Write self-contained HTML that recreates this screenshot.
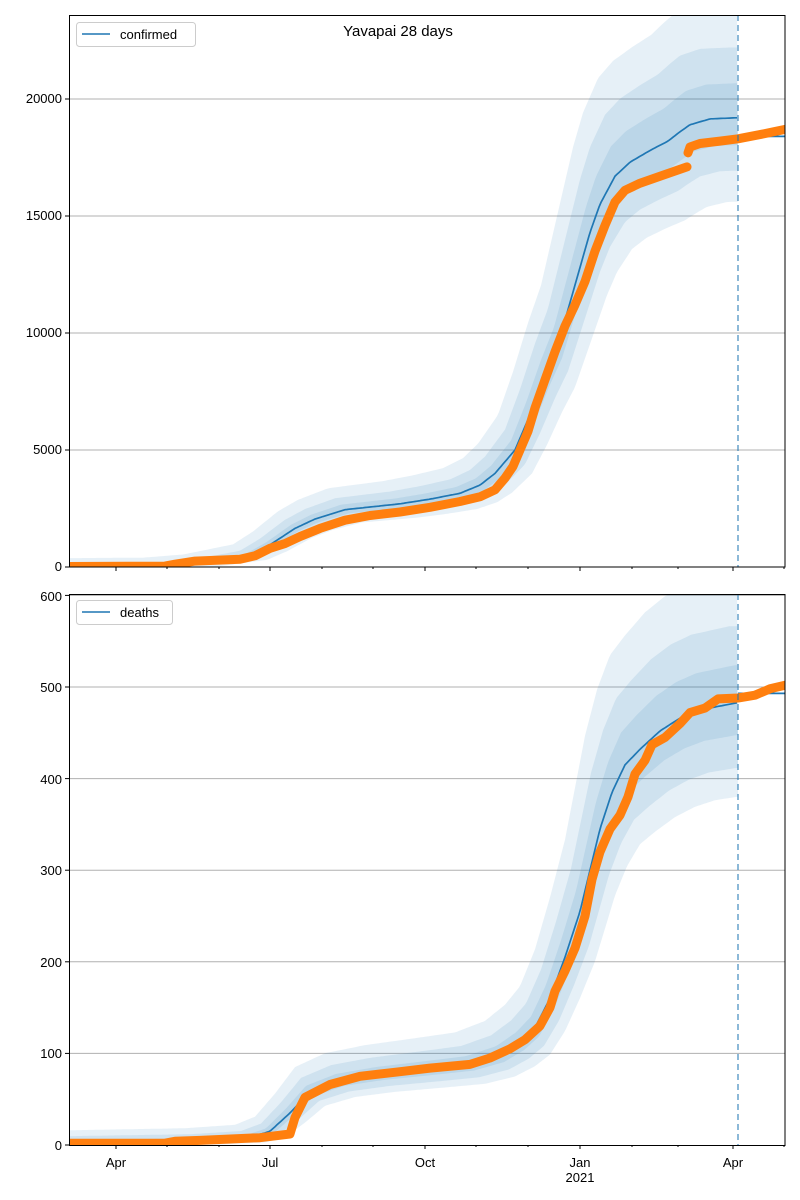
<!DOCTYPE html>
<html><head><meta charset="utf-8"><style>
html,body{margin:0;padding:0;background:#fff;}
svg{display:block;font-family:"Liberation Sans","DejaVu Sans",sans-serif;}
</style></head><body>
<svg id="s" width="800" height="1200" viewBox="0 0 800 1200" xmlns="http://www.w3.org/2000/svg">
<rect width="800" height="1200" fill="#fff"/>
<g id="plot"></g>
<g id="axes" stroke="#000" fill="none">
<rect x="69.5" y="15.5" width="715.5" height="551.5" stroke-width="1"/>
<rect x="69.5" y="594.5" width="715.5" height="551" stroke-width="1"/>
</g>
<g id="ticks" stroke="#000" stroke-width="1"></g>
<g font-size="13" fill="#000" text-anchor="end">
<text x="62" y="571">0</text>
<text x="62" y="454">5000</text>
<text x="62" y="337">10000</text>
<text x="62" y="220">15000</text>
<text x="62" y="103">20000</text>
<text x="62" y="1150">0</text>
<text x="62" y="1058">100</text>
<text x="62" y="967">200</text>
<text x="62" y="875">300</text>
<text x="62" y="784">400</text>
<text x="62" y="692">500</text>
<text x="62" y="601">600</text>
</g>
<g font-size="13" fill="#000" text-anchor="middle">
<text x="116" y="1167">Apr</text>
<text x="270" y="1167">Jul</text>
<text x="425" y="1167">Oct</text>
<text x="580" y="1167">Jan</text>
<text x="580" y="1182">2021</text>
<text x="733" y="1167">Apr</text>
<text x="398" y="36" font-size="15">Yavapai 28 days</text>
</g>
<g>
<rect x="76.5" y="22.5" width="119" height="24" rx="3" fill="#fff" fill-opacity="0.8" stroke="#ccc"/>
<line x1="82" y1="34" x2="110" y2="34" stroke="#1f77b4" stroke-width="1.5"/>
<text x="120" y="39" font-size="13">confirmed</text>
<rect x="76.5" y="600.5" width="96" height="24" rx="3" fill="#fff" fill-opacity="0.8" stroke="#ccc"/>
<line x1="82" y1="612" x2="110" y2="612" stroke="#1f77b4" stroke-width="1.5"/>
<text x="120" y="617" font-size="13">deaths</text>
</g>
</svg>
<script>
(function(){
var NS="http://www.w3.org/2000/svg";
var plot=document.getElementById('plot'),ticks=document.getElementById('ticks');
function el(p,t,a){var e=document.createElementNS(NS,t);for(var k in a)e.setAttribute(k,a[k]);p.appendChild(e);return e;}
function interp(pts,x){if(x<=pts[0][0])return pts[0][1];for(var i=1;i<pts.length;i++){if(x<=pts[i][0]){var a=pts[i-1],b=pts[i];return a[1]+(b[1]-a[1])*(x-a[0])/(b[0]-a[0]);}}return pts[pts.length-1][1];}
[0,5000,10000,15000,20000].forEach(function(v){var y=567-v*0.0234;if(v>0)el(plot,'line',{x1:69,x2:785,y1:y,y2:y,stroke:'#b0b0b0','stroke-width':1});});
[100,200,300,400,500,600].forEach(function(v){var y=1145-v*0.916;el(plot,'line',{x1:69,x2:785,y1:y,y2:y,stroke:'#b0b0b0','stroke-width':1});});
function panel(med,medAfter,obs,ys,fu,fl,sh,add,gclip){
 var g=el(plot,'g',{'clip-path':gclip});
 for(var k=2;k>=0;k--){
  var up=[],lo=[];
  for(var x=69;x<=738;x+=2){up.push(x+','+ys(interp(med,x+sh[k])*(1+fu[k])+add[k]));}
  for(var x=738;x>=69;x-=2){lo.push(x+','+ys(Math.max(0,interp(med,x-sh[k])*(1-fl[k])-add[k]*0.3)));}
  el(g,'polygon',{points:up.concat(lo).join(' '),fill:'#1f77b4','fill-opacity':0.11});
 }
 var m=[];for(var x=69;x<=738;x+=2)m.push(x+','+ys(interp(med,x)));
 el(g,'polyline',{points:m.join(' '),fill:'none',stroke:'#1f77b4','stroke-width':1.7});
 el(g,'polyline',{points:'738,'+ys(medAfter)+' 785,'+ys(medAfter),fill:'none',stroke:'#1f77b4','stroke-width':1.7});
 var o=[];for(var i=0;i<obs.length;i++){if(obs[i]=='|'){el(g,'polyline',{points:o.join(' '),fill:'none',stroke:'#ff7f0e','stroke-width':9,'stroke-linecap':'round','stroke-linejoin':'round'});o=[];}else{o.push(obs[i][0]+','+ys(obs[i][1]));}}
 el(g,'polyline',{points:o.join(' '),fill:'none',stroke:'#ff7f0e','stroke-width':9,'stroke-linecap':'round','stroke-linejoin':'round'});
}
var defs=el(document.getElementById('s'),'defs',{});
var c1=el(defs,'clipPath',{id:'c1'});el(c1,'rect',{x:69,y:15,width:716,height:552});
var c2=el(defs,'clipPath',{id:'c2'});el(c2,'rect',{x:69,y:594,width:716,height:551});
var y1=function(v){return (567-v*0.0234).toFixed(1);};
var y2=function(v){return (1145-v*0.916).toFixed(1);};
var cmed=[[69,20],[160,40],[200,150],[250,500],[270,950],[295,1650],[315,2050],[345,2450],[400,2700],[430,2900],[460,3150],[480,3500],[495,4000],[505,4500],[515,5000],[530,6500],[545,8200],[558,9500],[568,11000],[580,12800],[590,14300],[600,15500],[615,16700],[630,17300],[650,17800],[668,18200],[680,18600],[690,18900],[710,19150],[738,19200]];
var cobs=[[69,20],[165,40],[175,120],[195,250],[240,330],[255,480],[270,800],[285,1000],[300,1300],[320,1650],[345,2000],[370,2200],[400,2350],[430,2550],[460,2800],[480,3000],[495,3300],[505,3800],[513,4300],[520,5000],[528,5800],[535,6800],[545,8000],[555,9200],[565,10300],[575,11200],[585,12200],[595,13500],[605,14600],[615,15600],[625,16100],[640,16400],[660,16700],[687,17100],'|',[688,17700],[690,17950],[700,18100],[720,18200],[738,18300],[760,18480],[785,18700]];
panel(cmed,18400,cobs,y1,[0.075,0.15,0.23],[0.06,0.115,0.18],[4,10,17],[30,120,350],'url(#c1)');
var dmed=[[69,3],[200,5],[250,8],[270,15],[290,35],[310,58],[340,70],[380,77],[430,83],[470,88],[500,98],[520,112],[535,128],[550,160],[565,205],[580,255],[590,300],[600,345],[612,385],[625,415],[640,432],[660,452],[680,466],[700,475],[738,483]];
var dobs=[[69,2],[165,2],[175,4],[200,5],[260,8],[290,12],[295,30],[305,52],[330,66],[360,75],[400,80],[430,84],[470,88],[490,95],[510,105],[525,115],[540,130],[550,150],[555,168],[565,190],[575,215],[585,250],[592,290],[600,320],[610,345],[620,360],[628,380],[635,405],[645,420],[652,437],[665,445],[680,460],[690,472],[705,477],[718,487],[738,488],[755,491],[770,498],[785,502]];
panel(dmed,493,dobs,y2,[0.08,0.16,0.26],[0.07,0.14,0.2],[4,9,15],[2,6,12],'url(#c2)');
el(plot,'line',{x1:738,x2:738,y1:15,y2:567,stroke:'#1f77b4','stroke-opacity':0.6,'stroke-width':1.7,'stroke-dasharray':'6,4'});
el(plot,'line',{x1:738,x2:738,y1:594,y2:1145,stroke:'#1f77b4','stroke-opacity':0.6,'stroke-width':1.7,'stroke-dasharray':'6,4'});
[116,270,425,580,733].forEach(function(x){el(ticks,'line',{x1:x,x2:x,y1:567,y2:571});el(ticks,'line',{x1:x,x2:x,y1:1145,y2:1149});});
[167,219,322,373,476,528,632,678,784].forEach(function(x){el(ticks,'line',{x1:x,x2:x,y1:567,y2:569});el(ticks,'line',{x1:x,x2:x,y1:1145,y2:1147});});
[0,5000,10000,15000,20000].forEach(function(v){var y=567-v*0.0234;el(ticks,'line',{x1:65,x2:69,y1:y,y2:y});});
[0,100,200,300,400,500,600].forEach(function(v){var y=1145-v*0.916;el(ticks,'line',{x1:65,x2:69,y1:y,y2:y});});
})();
</script>
</body></html>
